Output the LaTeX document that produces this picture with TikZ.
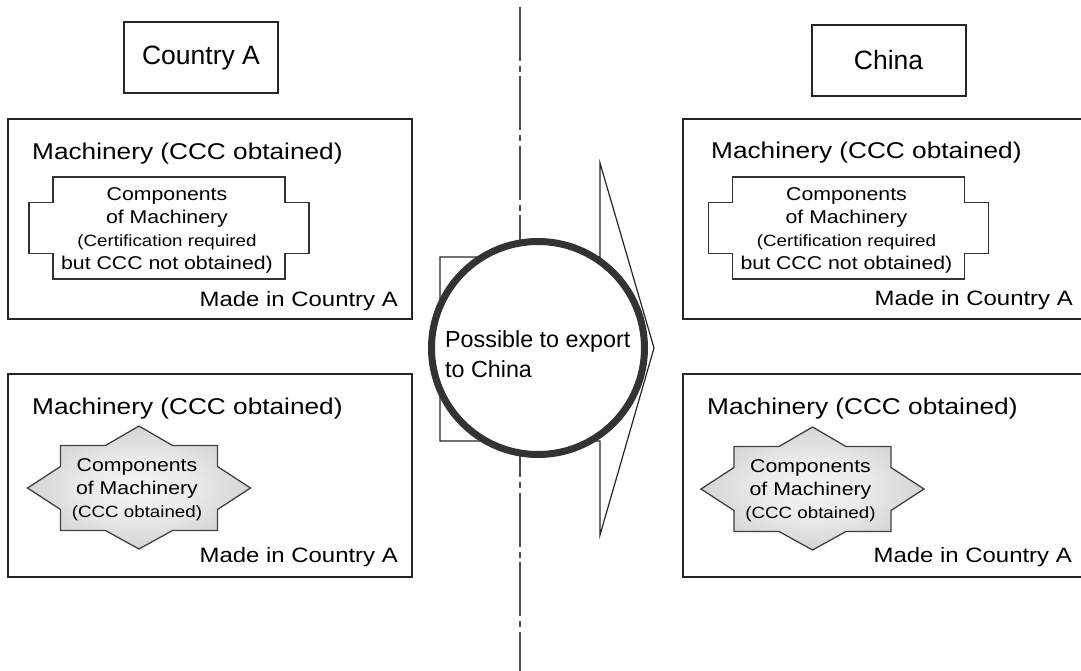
\documentclass[tikz,border=0pt]{standalone}
\usepackage{fontspec}
\setmainfont{Liberation Sans}
\newfontfamily\widefont{Liberation Sans}[FakeStretch=1.15]
\usetikzlibrary{positioning}
\usetikzlibrary{calc}
\pgfdeclareradialshading{starshade}{\pgfpoint{0bp}{0bp}}{color(0bp)=(black!4); color(12bp)=(black!8); color(50bp)=(black!33)}
\newcommand\notesize{\widefont\fontsize{16.3}{20.5}\selectfont}
\tikzstyle{country}=[draw=black!85,line width=2pt,minimum width=154pt,minimum height=71pt,inner sep=0pt,font=\fontsize{26.5}{30}\selectfont]
\tikzstyle{machine}=[draw=black!85,line width=2.5pt,minimum width=404pt,inner sep=0pt]
\tikzstyle{machinetitle}=[anchor=base west,inner sep=0pt,font=\widefont\fontsize{22.8}{27}\selectfont]
\tikzstyle{madein}=[anchor=base east,inner sep=0pt,font=\widefont\fontsize{20.8}{25}\selectfont]
\tikzstyle{plaque}=[draw=black!80,line width=1.3pt,fill=white]
\tikzstyle{starpart}=[draw=black!75,line width=1.3pt,shading=starshade]
\tikzstyle{parttext}=[align=center,inner sep=0pt,font=\widefont\fontsize{18.5}{23}\selectfont]
\tikzstyle{midline}=[draw=black!70,line width=1.5pt,dash pattern=on 54pt off 5pt on 6pt off 4.4pt]
\tikzstyle{exportarrow}=[draw=black!85,line width=1.2pt,fill=white]
\tikzstyle{exportcircle}=[circle,draw=black!80,line width=7pt,fill=white,minimum size=213pt,inner sep=0pt]
\tikzstyle{exporttext}=[align=left,inner sep=0pt,anchor=west,font=\fontsize{23.3}{30}\selectfont]

\begin{document}
\begin{tikzpicture}[x=1pt,y=-1pt]
    \useasboundingbox (0,0) rectangle (1081,671);

    % border line between the two countries
    \coordinate (linetop) at (520,7);
    \coordinate (linebottom) at (520,671);
    \path[midline] (linetop) -- (linebottom);

    \foreach \pos/\name/\label in {{(201,57.5)/countryA/Country A}, {(888.5,60.5)/china/China}}
        \node[country] (\name) at \pos {\label};

    \foreach \pos/\name/\h in {{(210,219)/lefttop/200}, {(210,475.5)/leftbottom/203}, {(885,219)/righttop/200}, {(885,475.5)/rightbottom/203}}
        \node[machine,minimum height=\h pt] (\name) at \pos {};

    \foreach \pos/\name in {{(32,160)/lefttop}, {(32,414)/leftbottom}, {(711,159)/righttop}, {(707,414)/rightbottom}}
        \node[machinetitle] (title\name) at \pos {Machinery (CCC obtained)};

    \foreach \pos/\name in {{(398,306)/lefttop}, {(398,562)/leftbottom}, {(1073,305)/righttop}, {(1072,562)/rightbottom}}
        \node[madein] (made\name) at \pos {Made in Country A};

    % components without CCC
    \foreach \x/\y/\name in {169/228/leftpart, 848.5/228/rightpart} {
        \path[plaque,shift={(\x,\y)}] (-116,-51) -- (116,-51) -- (116,-25.5) -- (140,-25.5) -- (140,25.5) -- (116,25.5)
            -- (116,51) -- (-116,51) -- (-116,25.5) -- (-140,25.5) -- (-140,-25.5) -- (-116,-25.5) -- cycle;
        \node[parttext] (\name) at (\x-2,\y+2) {Components\\of Machinery\\\notesize (Certification required\\but CCC not obtained)};
    }

    % components with CCC
    \foreach \x/\y/\name in {139/488/leftstar, 812.5/489/rightstar} {
        \path[starpart,shift={(\x,\y)}] (-78.5,-42.5) -- (-33.5,-42.5) -- (0,-62) -- (33.5,-42.5) -- (78.5,-42.5) -- (78.5,-21.5)
            -- (111.5,0) -- (78.5,21.5) -- (78.5,42.5) -- (33.5,42.5) -- (0,61) -- (-33.5,42.5) -- (-78.5,42.5)
            -- (-78.5,21.5) -- (-111.5,0) -- (-78.5,-21.5) -- cycle;
        \node[parttext] (\name) at (\x-2,\y+2) {Components\\of Machinery\\\notesize (CCC obtained)};
    }

    \path[exportarrow] (440,257) -- (600,257) -- (600,163) -- (654,348) -- (600,535) -- (600,441) -- (440,441) -- cycle;
    \node[exportcircle] (export) at (538,348) {};
    \node[exporttext] (exportlabel) at (445,354) {Possible to export\\to China};
\end{tikzpicture}
\end{document}
